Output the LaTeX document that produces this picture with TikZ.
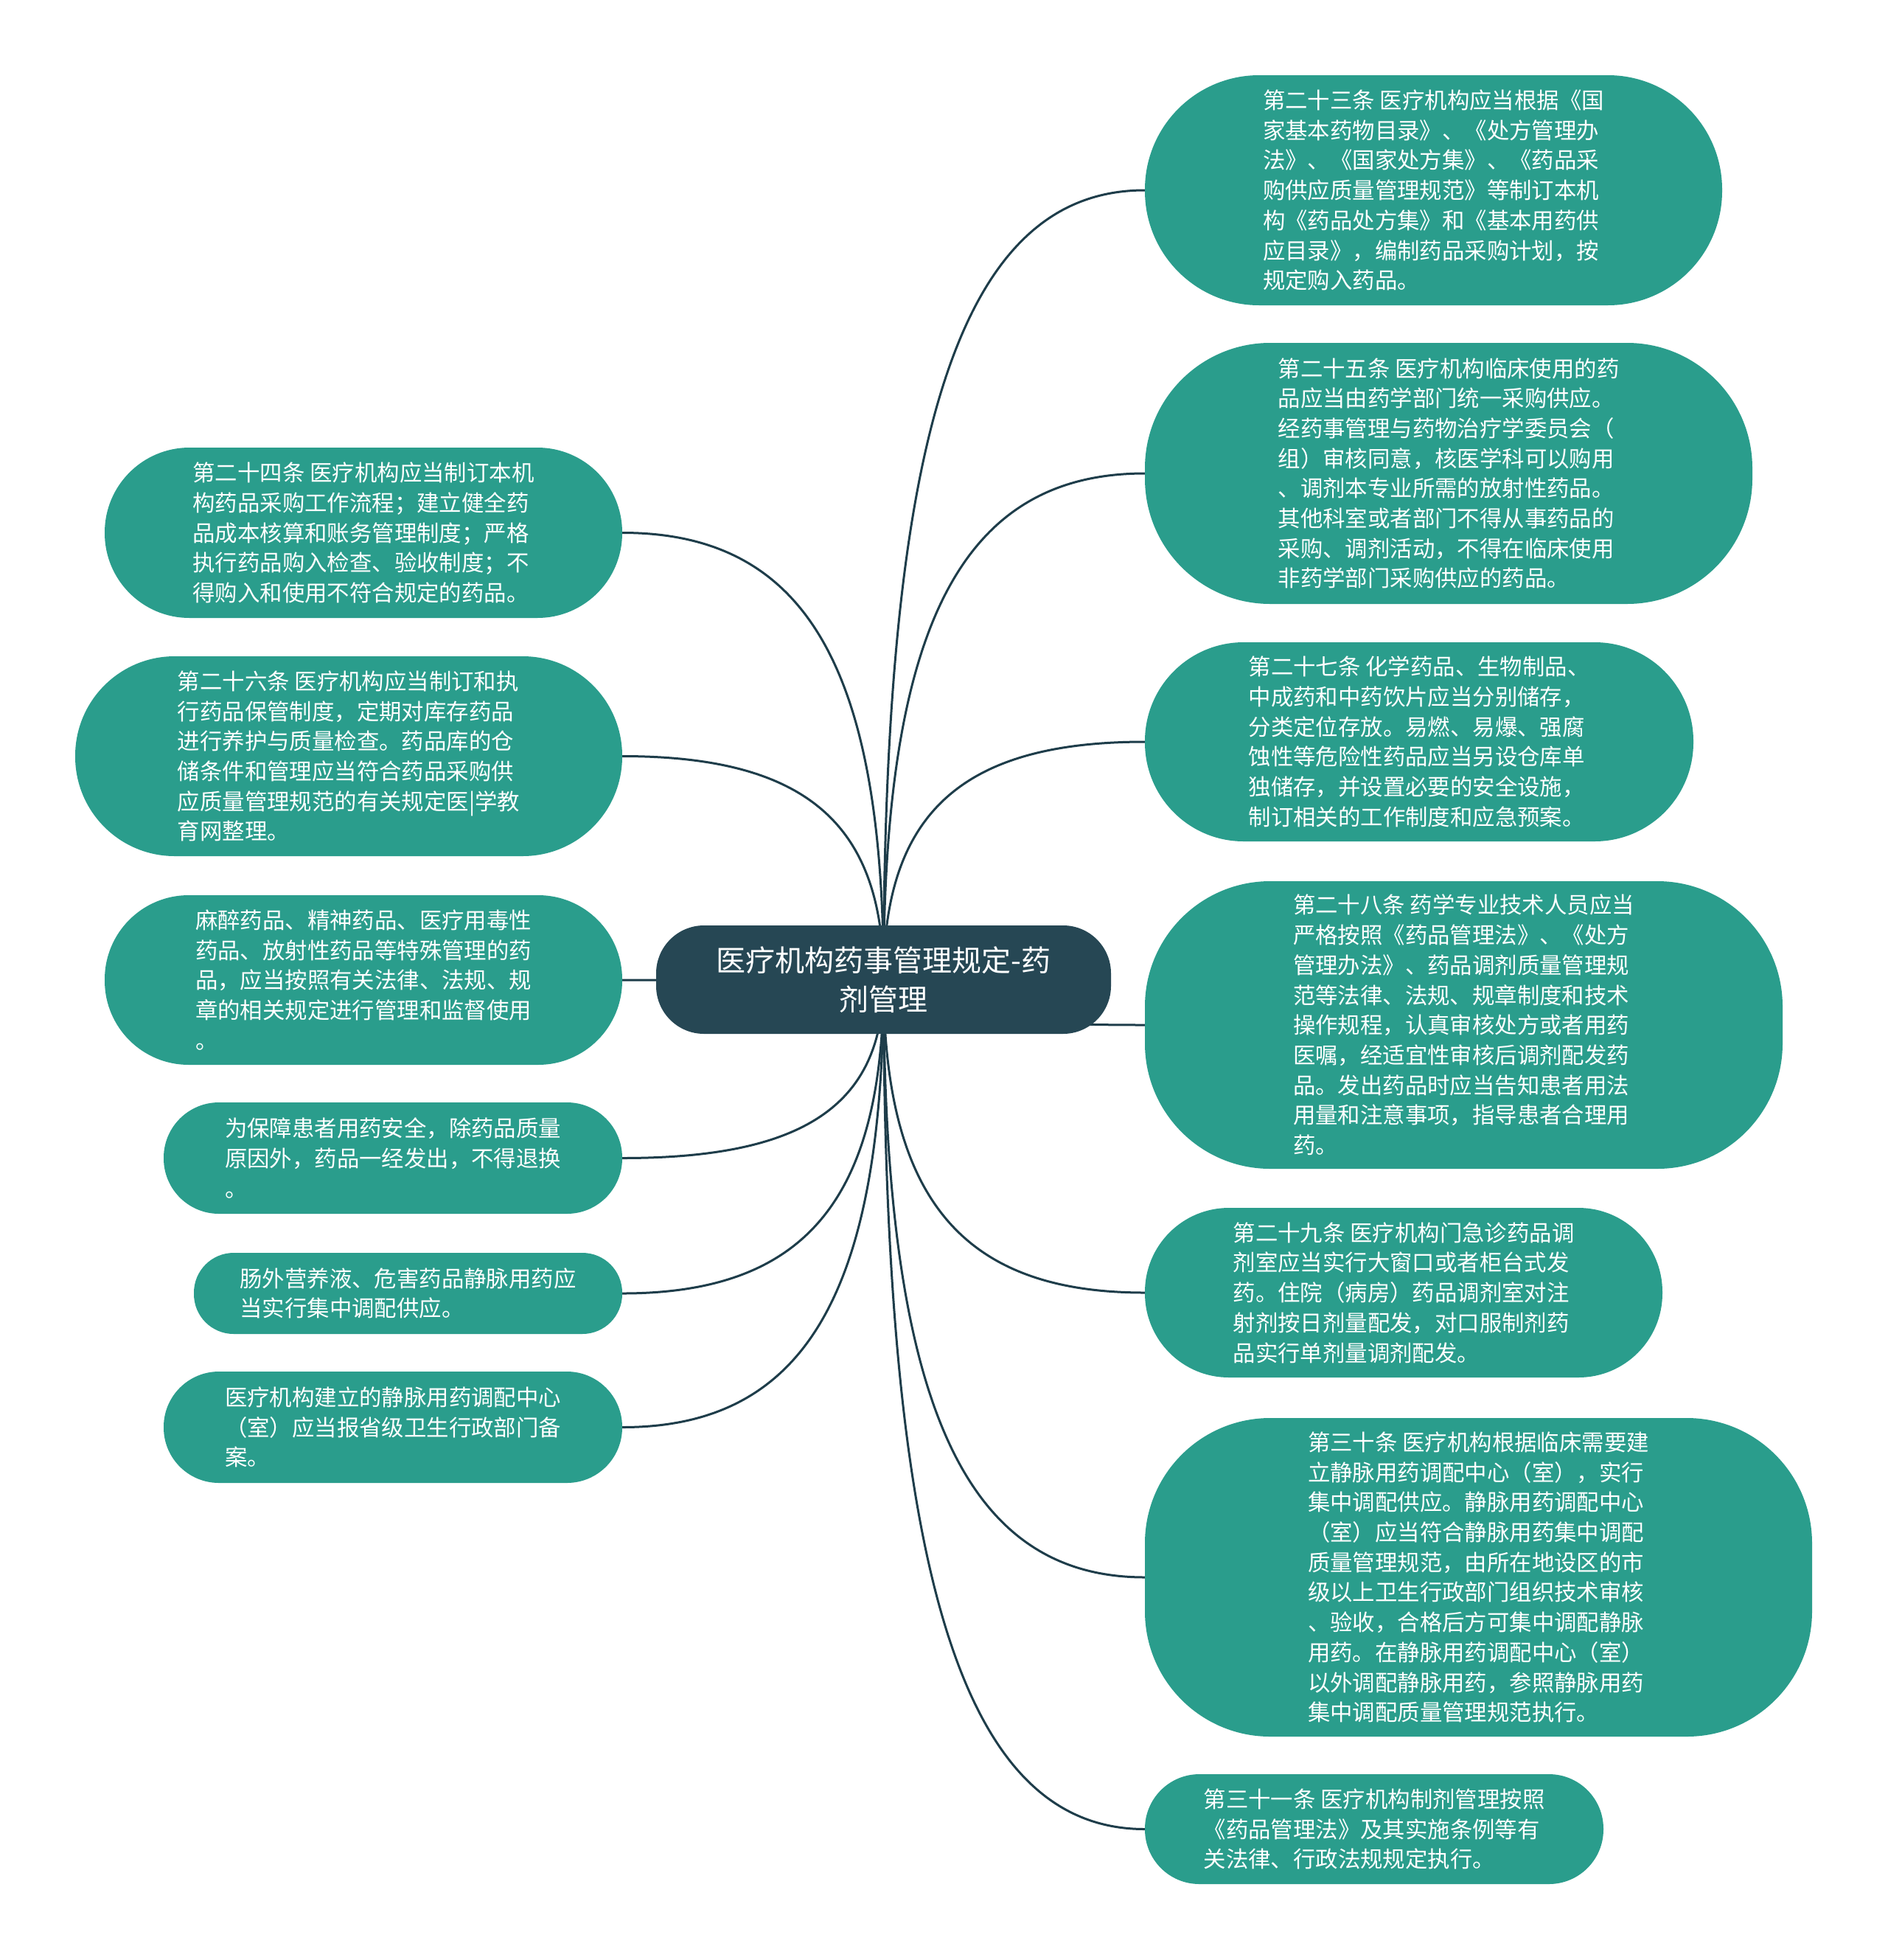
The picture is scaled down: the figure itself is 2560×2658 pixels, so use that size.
\documentclass[tikz,border=0pt]{standalone}
\usepackage{fontspec}
\setmainfont{Noto Sans CJK SC}
\usetikzlibrary{calc}
\pgfdeclarelayer{bg}
\pgfdeclarelayer{paper}
\pgfsetlayers{paper,bg,main}
\definecolor{teal}{RGB}{42,157,140}
\definecolor{hub}{RGB}{38,71,84}
\definecolor{wire}{RGB}{30,61,74}
\tikzset{
  leaf/.style={fill=teal, text=white, align=left, inner sep=0pt,
    font=\fontsize{30.4pt}{40.7pt}\selectfont, rounded corners=#1},
  hubnode/.style={fill=hub, text=white, align=center, inner sep=0pt,
    font=\fontsize{40pt}{53pt}\selectfont, rounded corners=65pt,
    minimum width=617pt, minimum height=147pt},
  conn/.style={line width=3pt, draw=wire,
    to path={let \p1=(\tikztostart), \p2=(\tikztotarget) in
      .. controls (\x1,{\y1+0.7*(\y2-\y1)}) and ({\x1+0.3*(\x2-\x1)},\y2) .. (\tikztotarget)}}
}
\begin{document}
\begin{tikzpicture}[x=1pt,y=-1pt]
\useasboundingbox (0,0) rectangle (2560,2658);
\begin{pgfonlayer}{paper}
\fill[white] (0,0) rectangle (2560,2658);
\end{pgfonlayer}

\node[hubnode] (C) at (1198.5,1328.5) {医疗机构药事管理规定-药\\剂管理};

\node[leaf=155pt, minimum width=783pt, minimum height=312pt] (R1) at (1944.5,258) {第二十三条 医疗机构应当根据《国\\家基本药物目录》、《处方管理办\\法》、《国家处方集》、《药品采\\购供应质量管理规范》等制订本机\\构《药品处方集》和《基本用药供\\应目录》，编制药品采购计划，按\\规定购入药品。};

\node[leaf=170pt, minimum width=824pt, minimum height=354pt] (R2) at (1965,642) {第二十五条 医疗机构临床使用的药\\品应当由药学部门统一采购供应。\\经药事管理与药物治疗学委员会（\\组）审核同意，核医学科可以购用\\、调剂本专业所需的放射性药品。\\其他科室或者部门不得从事药品的\\采购、调剂活动，不得在临床使用\\非药学部门采购供应的药品。};

\node[leaf=134pt, minimum width=744pt, minimum height=270pt] (R3) at (1925,1006) {第二十七条 化学药品、生物制品、\\中成药和中药饮片应当分别储存，\\分类定位存放。易燃、易爆、强腐\\蚀性等危险性药品应当另设仓库单\\独储存，并设置必要的安全设施，\\制订相关的工作制度和应急预案。};

\node[leaf=170pt, minimum width=865pt, minimum height=390pt] (R4) at (1985.5,1390) {第二十八条 药学专业技术人员应当\\严格按照《药品管理法》、《处方\\管理办法》、药品调剂质量管理规\\范等法律、法规、规章制度和技术\\操作规程，认真审核处方或者用药\\医嘱，经适宜性审核后调剂配发药\\品。发出药品时应当告知患者用法\\用量和注意事项，指导患者合理用\\药。};

\node[leaf=114pt, minimum width=702pt, minimum height=230pt] (R5) at (1904,1753) {第二十九条 医疗机构门急诊药品调\\剂室应当实行大窗口或者柜台式发\\药。住院（病房）药品调剂室对注\\射剂按日剂量配发，对口服制剂药\\品实行单剂量调剂配发。};

\node[leaf=170pt, minimum width=905pt, minimum height=432pt] (R6) at (2005.5,2139) {第三十条 医疗机构根据临床需要建\\立静脉用药调配中心（室），实行\\集中调配供应。静脉用药调配中心\\（室）应当符合静脉用药集中调配\\质量管理规范，由所在地设区的市\\级以上卫生行政部门组织技术审核\\、验收，合格后方可集中调配静脉\\用药。在静脉用药调配中心（室）\\以外调配静脉用药，参照静脉用药\\集中调配质量管理规范执行。};

\node[leaf=74pt, minimum width=622pt, minimum height=149pt] (R7) at (1864,2480.5) {第三十一条 医疗机构制剂管理按照\\《药品管理法》及其实施条例等有\\关法律、行政法规规定执行。};

\node[leaf=115pt, minimum width=702pt, minimum height=231pt] (L1) at (493,722.5) {第二十四条 医疗机构应当制订本机\\构药品采购工作流程；建立健全药\\品成本核算和账务管理制度；严格\\执行药品购入检查、验收制度；不\\得购入和使用不符合规定的药品。};

\node[leaf=135pt, minimum width=742pt, minimum height=271pt] (L2) at (473,1025.5) {第二十六条 医疗机构应当制订和执\\行药品保管制度，定期对库存药品\\进行养护与质量检查。药品库的仓\\储条件和管理应当符合药品采购供\\应质量管理规范的有关规定医|学教\\育网整理。};

\node[leaf=114pt, minimum width=702pt, minimum height=230pt] (L3) at (493,1329) {麻醉药品、精神药品、医疗用毒性\\药品、放射性药品等特殊管理的药\\品，应当按照有关法律、法规、规\\章的相关规定进行管理和监督使用\\。};

\node[leaf=75pt, minimum width=622pt, minimum height=151pt] (L4) at (533,1570.5) {为保障患者用药安全，除药品质量\\原因外，药品一经发出，不得退换\\。};

\node[leaf=54pt, minimum width=581pt, minimum height=110pt] (L5) at (553.5,1754) {肠外营养液、危害药品静脉用药应\\当实行集中调配供应。};

\node[leaf=75pt, minimum width=622pt, minimum height=151pt] (L6) at (533,1935.5) {医疗机构建立的静脉用药调配中心\\（室）应当报省级卫生行政部门备\\案。};

\begin{pgfonlayer}{bg}
\foreach \nd in {R1,R2,R3,R4,R5,R6,R7}
  \draw[conn] (C.center) to (\nd.west);
\foreach \nd in {L1,L2,L3,L4,L5,L6}
  \draw[conn] (C.center) to (\nd.east);
\end{pgfonlayer}
\end{tikzpicture}
\end{document}
